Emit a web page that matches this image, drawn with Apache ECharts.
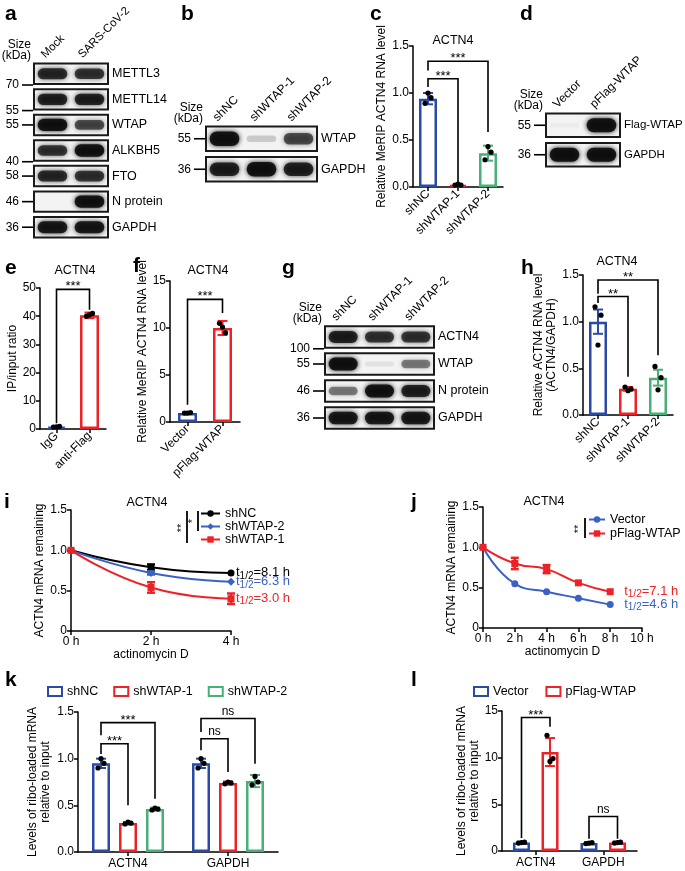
<!DOCTYPE html>
<html><head><meta charset="utf-8">
<script src="https://cdn.jsdelivr.net/npm/echarts@6/dist/echarts.min.js"></script>
<style>html,body{margin:0;padding:0;background:#fff}#c{width:685px;height:871px}</style>
</head><body><div id="c"></div>
<script>
// ================= DATA =================
// a: western blot
const aLanes = ['Mock', 'SARS-CoV-2'];
const aRows = ['METTL3', 'METTL14', 'WTAP', 'ALKBH5', 'FTO', 'N protein', 'GAPDH'];
const aKda = ['70', '55', '55', '40', '58', '46', '36'];
const aBands = [[0.85, 0.8], [0.9, 0.9], [1.0, 0.7], [0.8, 1.0], [0.85, 0.8], [0.0, 1.0], [0.95, 0.95]];
const aMarkBottom = [true, true, false, true, false, false, false];
// b: western blot
const bLanes = ['shNC', 'shWTAP-1', 'shWTAP-2'];
const bRows = ['WTAP', 'GAPDH'];
const bKda = ['55', '36'];
const bBands = [[1.0, 0.18, 0.7], [0.9, 1.0, 0.9]];
// c: MeRIP bars
const cCats = ['shNC', 'shWTAP-1', 'shWTAP-2'];
const cMean = [0.94, 0.02, 0.36];
const cSD = [0.06, 0.01, 0.08];
const cPts = [[0.89, 0.95, 1.0], [0.02, 0.02, 0.03], [0.29, 0.37, 0.43]];
const cSig = [[0, 0, 1, 0, 1.152, 1.064, 0.053, '***'], [0, 0, 2, 0, 1.337, 1.24, 0.585, '***']];
// d: western blot
const dLanes = ['Vector', 'pFlag-WTAP'];
const dRows = ['Flag-WTAP', 'GAPDH'];
const dKda = ['55', '36'];
const dBands = [[0.03, 1.0], [1.0, 1.0]];
// e: IP/input
const eCats = ['IgG', 'anti-Flag'];
const eMean = [0.8, 40.3];
const eSD = [0.3, 1.0];
const ePts = [[0.7, 0.9, 0.8], [40.0, 41.0, 40.5]];
const eSig = [[0, 0, 1, 0, 49.5, 2.0, 42.3, '***']];
// f: MeRIP overexpression
const fCats = ['Vector', 'pFlag-WTAP'];
const fMean = [0.95, 10.0];
const fSD = [0.1, 0.75];
const fPts = [[0.95, 1.0, 0.95], [10.5, 9.5, 10.1]];
const fSig = [[0, 0, 1, 0, 13.05, 1.84, 11.6, '***']];
// g: western blot
const gLanes = ['shNC', 'shWTAP-1', 'shWTAP-2'];
const gRows = ['ACTN4', 'WTAP', 'N protein', 'GAPDH'];
const gKda = ['100', '55', '46', '36'];
const gBands = [[0.9, 0.8, 0.8], [1.0, 0.08, 0.5], [0.5, 1.0, 0.9], [0.95, 0.95, 0.95]];
const gMarkBottom = [true, false, false, false];
// h: RNA level
const hCats = ['shNC', 'shWTAP-1', 'shWTAP-2'];
const hMean = [1.0, 0.28, 0.40];
const hSD = [0.13, 0.02, 0.085];
const hPts = [[1.16, 1.07, 0.75], [0.30, 0.28, 0.26], [0.52, 0.40, 0.27]];
const hSig = [[0, 0, 1, 0, 1.27, 1.2, 0.41, '**'], [0, 0, 2, 0, 1.446, 1.30, 0.64, '**']];
// i: decay
const iTimes = [0, 2, 4];
const iNames = ['shNC', 'shWTAP-2', 'shWTAP-1'];
const iMeans = [[1, 0.79, 0.72], [1, 0.72, 0.61], [1, 0.54, 0.40]];
const iSD = [[0, 0.035, 0.01], [0, 0.02, 0.01], [0, 0.065, 0.065]];
const iHalf = ['8.1', '6.3', '3.0'];
// j: decay
const jTimes = [0, 2, 4, 6, 8];
const jNames = ['Vector', 'pFlag-WTAP'];
const jMeans = [[1, 0.55, 0.45, 0.37, 0.29], [1, 0.80, 0.73, 0.56, 0.45]];
const jSD = [[0, 0.01, 0.01, 0.01, 0.01], [0, 0.07, 0.05, 0.01, 0.01]];
const jHalf = ['4.6', '7.1'];
// k: ribo-loaded
const kGroups = ['ACTN4', 'GAPDH'];
const kNames = ['shNC', 'shWTAP-1', 'shWTAP-2'];
const kMeans = [[0.95, 0.95], [0.31, 0.74], [0.46, 0.76]];
const kSD = [[0.05, 0.05], [0.012, 0.015], [0.015, 0.065]];
const kPts = [[[0.90, 0.95, 1.0], [0.90, 0.95, 1.0]], [[0.30, 0.31, 0.32], [0.73, 0.74, 0.75]], [[0.45, 0.46, 0.47], [0.72, 0.75, 0.81]]];
const kSig = [[0, 0, 0, 1, 1.16, 1.05, 0.5, '***'], [0, 0, 0, 2, 1.386, 1.25, 0.57, '***'], [1, 0, 1, 1, 1.214, 1.09, 0.857, 'ns'], [1, 0, 1, 2, 1.43, 1.286, 0.946, 'ns']];
// l: ribo-loaded overexpression
const lGroups = ['ACTN4', 'GAPDH'];
const lNames = ['Vector', 'pFlag-WTAP'];
const lMeans = [[0.9, 0.85], [10.6, 0.9]];
const lSD = [[0.1, 0.08], [1.5, 0.1]];
const lPts = [[[0.85, 0.95, 0.9], [0.8, 0.9, 0.85]], [[12.4, 9.9, 9.6], [0.85, 0.95, 0.9]]];
const lSig = [[0, 0, 0, 1, 14.3, 1.4, 13.3, '***'], [1, 0, 1, 1, 3.7, 1.3, 1.3, 'ns']];

// ================= STYLE =================
const FONT = 'Liberation Sans, Arial, Helvetica, sans-serif';
const BLUE = '#2b4aa6', RED = '#ec2227', GREEN = '#4aae78';
const LBLUE = '#3a62c4';

const grids = [], xAxes = [], yAxes = [], series = [], graphics = [], legends = [];
function addGrid(g, xa, ya) {
  grids.push(g); const gi = grids.length - 1;
  xa.gridIndex = gi; ya.gridIndex = gi; xAxes.push(xa); yAxes.push(ya); return gi;
}
const axLine = { show: true, lineStyle: { color: '#000', width: 1.5 } };
const axTick = { show: true, length: 4, lineStyle: { color: '#000', width: 1.5 } };
function yAx(max, interval, name, gap, fmt) {
  return { type: 'value', min: 0, max, interval, axisLine: axLine, axisTick: axTick, splitLine: { show: false },
    axisLabel: { color: '#000', fontSize: 12, fontFamily: FONT, margin: 4, formatter: fmt },
    name, nameLocation: 'middle', nameGap: gap, nameRotate: 90,
    nameTextStyle: { color: '#000', fontSize: 12, fontFamily: FONT, lineHeight: 13 } };
}
function xCat(data, rotate) {
  return { type: 'category', data, axisLine: axLine,
    axisTick: { show: true, alignWithLabel: true, length: 4, lineStyle: { color: '#000', width: 1.5 } },
    axisLabel: { color: '#000', fontSize: 12, fontFamily: FONT, rotate, margin: 5, interval: 0 } };
}
const f1 = v => v.toFixed(1), f0 = v => String(v), fz = v => v === 0 ? '0' : v.toFixed(1);

function errSeries(gi, means, sds, pts, colors, offset, cap) {
  return { type: 'custom', xAxisIndex: gi, yAxisIndex: gi, z: 5, silent: true,
    data: means.map((m, i) => [i, m, sds[i]]),
    renderItem(params, api) {
      const i = params.dataIndex, m = api.value(1), s = api.value(2);
      const x = api.coord([i, m])[0] + offset;
      const yt = api.coord([i, m + s])[1], yb = api.coord([i, Math.max(m - s, 0)])[1];
      const col = colors[i];
      const ch = [
        { type: 'line', shape: { x1: x, y1: yt, x2: x, y2: yb }, style: { stroke: col, lineWidth: 2 } },
        { type: 'line', shape: { x1: x - cap, y1: yt, x2: x + cap, y2: yt }, style: { stroke: col, lineWidth: 2 } },
        { type: 'line', shape: { x1: x - cap, y1: yb, x2: x + cap, y2: yb }, style: { stroke: col, lineWidth: 2 } }];
      const jit = [-3, 3, 0];
      pts[i].forEach((p, k) => {
        const y = api.coord([i, p])[1];
        ch.push({ type: 'circle', shape: { cx: x + jit[k], cy: y, r: 2.6 }, style: { fill: '#000' } });
      });
      return { type: 'group', children: ch };
    } };
}
function sigSeries(gi, items, offsets) {
  return { type: 'custom', xAxisIndex: gi, yAxisIndex: gi, z: 6, silent: true,
    data: items.map(it => [it[0], it[4]]),
    renderItem(params, api) {
      const it = items[params.dataIndex];
      const x1 = api.coord([it[0], 0])[0] + offsets[it[1]];
      const x2 = api.coord([it[2], 0])[0] + offsets[it[3]];
      const yt = api.coord([0, it[4]])[1], y1 = api.coord([0, it[5]])[1], y2 = api.coord([0, it[6]])[1];
      const star = it[7].indexOf('*') >= 0;
      return { type: 'group', children: [
        { type: 'polyline', shape: { points: [[x1, y1], [x1, yt], [x2, yt], [x2, y2]] }, style: { stroke: '#000', lineWidth: 1.6, fill: null } },
        { type: 'text', x: (x1 + x2) / 2, y: star ? yt + 4 : yt - 1, style: { text: it[7], fill: '#000', fontSize: star ? 13 : 12, fontFamily: FONT, align: 'center', verticalAlign: 'bottom' } }] };
    } };
}
function barChart(box, cats, means, sds, pts, sig, colors, ymax, yint, yname, gap, fmt, bw) {
  const gi = addGrid(box, xCat(cats, 45), yAx(ymax, yint, yname, gap, fmt));
  series.push({ type: 'bar', xAxisIndex: gi, yAxisIndex: gi, barWidth: bw, silent: true, z: 2,
    data: means.map((v, i) => ({ value: v, itemStyle: { color: '#fff', borderColor: colors[i], borderWidth: 2.5 } })) });
  series.push(errSeries(gi, means, sds, pts, colors, 0, 5));
  series.push(sigSeries(gi, sig, [0]));
}
function groupChart(box, groups, names, prefix, means, sds, pts, sig, colors, ymax, yint, yname, gap, fmt, bw, gapPct, pitch) {
  const gi = addGrid(box, xCat(groups, 0), yAx(ymax, yint, yname, gap, fmt));
  xAxes[gi].axisLabel.margin = 6;
  const n = names.length, offs = names.map((_, s) => (s - (n - 1) / 2) * pitch);
  names.forEach((nm, s) => {
    series.push({ type: 'bar', name: prefix + nm, xAxisIndex: gi, yAxisIndex: gi, barWidth: bw, barGap: gapPct, z: 2,
      itemStyle: { color: '#fff', borderColor: colors[s], borderWidth: 2.5 }, data: means[s] });
  });
  names.forEach((nm, s) => {
    series.push(errSeries(gi, means[s], sds[s], pts[s], groups.map(() => colors[s]), offs[s], 5));
  });
  series.push(sigSeries(gi, sig, offs));
  return gi;
}
function addBlot(box, lanes, rows, kda, bands, markBottom, fs) {
  const gi = addGrid(box, { type: 'value', min: 0, max: lanes.length, show: false },
    { type: 'value', min: 0, max: rows.length, inverse: true, show: false });
  const nL = lanes.length;
  series.push({ type: 'custom', xAxisIndex: gi, yAxisIndex: gi, silent: true, clip: false,
    data: rows.map((r, i) => [i].concat(bands[i])),
    renderItem(params, api) {
      const r = params.dataIndex;
      const p0 = api.coord([0, r + 0.1]), p1 = api.coord([nL, r + 0.9]);
      const bh = p1[1] - p0[1], W = p1[0] - p0[0], lw = W / nL;
      const ch = [{ type: 'rect', shape: { x: p0[0], y: p0[1], width: W, height: bh }, style: { fill: '#f3f3f3', stroke: '#1a1a1a', lineWidth: 2 } }];
      for (let j = 0; j < nL; j++) {
        const I = api.value(j + 1);
        const c = api.coord([j + 0.5, r + 0.5]);
        const h = bh * (0.2 + 0.4 * I), w = lw * 0.8;
        if (I > 0.01) ch.push({ type: 'rect', shape: { x: c[0] - w / 2, y: c[1] - h / 2, width: w, height: h, r: [h / 2, h / 2, h / 2, h / 2] },
          style: { fill: 'rgba(12,12,12,' + (0.9 * I) + ')', shadowBlur: 5, shadowColor: 'rgba(0,0,0,' + I + ')' } });
      }
      ch.push({ type: 'text', x: p1[0] + 4, y: (p0[1] + p1[1]) / 2, style: { text: rows[r], fill: '#000', fontSize: fs.row, fontFamily: FONT, align: 'left', verticalAlign: 'middle' } });
      const my = (markBottom && markBottom[r]) ? p1[1] + 1 : (p0[1] + p1[1]) / 2;
      ch.push({ type: 'line', shape: { x1: p0[0] - 12, y1: my, x2: p0[0] - 1, y2: my }, style: { stroke: '#000', lineWidth: 1.6 } });
      ch.push({ type: 'text', x: p0[0] - 15, y: my, style: { text: kda[r], fill: '#000', fontSize: 12, fontFamily: FONT, align: 'right', verticalAlign: 'middle' } });
      if (r === 0) {
        ch.push({ type: 'text', x: p0[0] - 3, y: p0[1] - 2, style: { text: 'Size\n(kDa)', fill: '#000', fontSize: 12, lineHeight: 11, fontFamily: FONT, align: 'right', verticalAlign: 'bottom' } });
        for (let j = 0; j < nL; j++) {
          const c = api.coord([j + 0.5, r]);
          ch.push({ type: 'text', x: c[0] - 5, y: p0[1] - 3, rotation: Math.PI / 4,
            style: { text: lanes[j], fill: '#000', fontSize: fs.lane, fontFamily: FONT, align: 'left', verticalAlign: 'bottom' } });
        }
      }
      return { type: 'group', children: ch };
    } });
}
function decayChart(box, times, names, means, sds, half, colors, symbols, xmax, gap, labelDist) {
  const xa = { type: 'value', min: 0, max: xmax, interval: 2, axisLine: axLine, axisTick: axTick, splitLine: { show: false },
    axisLabel: { color: '#000', fontSize: 12, fontFamily: FONT, margin: 5, formatter: v => v + ' h' },
    name: 'actinomycin D', nameLocation: 'middle', nameGap: 18, nameTextStyle: { color: '#000', fontSize: 12, fontFamily: FONT } };
  const gi = addGrid(box, xa, yAx(1.5, 0.5, 'ACTN4 mRNA remaining', gap, fz));
  names.forEach((nm, s) => {
    series.push({ type: 'line', name: nm, xAxisIndex: gi, yAxisIndex: gi, smooth: 0.5, symbol: symbols[s], symbolSize: symbols[s] === 'diamond' ? 8 : 7,
      color: colors[s], lineStyle: { width: 2, color: colors[s] }, itemStyle: { color: colors[s] }, z: 3,
      data: times.map((t, k) => [t, means[s][k]]),
      endLabel: { show: true, distance: labelDist, formatter: () => '{a|t}{b|1/2}{a|=' + half[s] + ' h}',
        rich: { a: { fontSize: 13, fontFamily: FONT, color: colors[s], lineHeight: 16 },
                b: { fontSize: 10, fontFamily: FONT, color: colors[s], verticalAlign: 'bottom', lineHeight: 10 } } } });
    series.push({ type: 'custom', xAxisIndex: gi, yAxisIndex: gi, silent: true, z: 4,
      data: times.map((t, k) => [t, means[s][k], sds[s][k]]),
      renderItem(params, api) {
        const t = api.value(0), m = api.value(1), sd = api.value(2);
        if (sd < 0.02) return null;
        const x = api.coord([t, m])[0], yt = api.coord([t, m + sd])[1], yb = api.coord([t, m - sd])[1];
        const st = { stroke: colors[s], lineWidth: 2.5 };
        return { type: 'group', children: [
          { type: 'line', shape: { x1: x, y1: yt, x2: x, y2: yb }, style: st },
          { type: 'line', shape: { x1: x - 4, y1: yt, x2: x + 4, y2: yt }, style: st },
          { type: 'line', shape: { x1: x - 4, y1: yb, x2: x + 4, y2: yb }, style: st }] };
      } });
  });
  return gi;
}
function txt(x, y, text, opt, rot) {
  graphics.push({ type: 'text', x, y, silent: true, rotation: rot || 0,
    style: Object.assign({ text, fill: '#000', fontSize: 12, fontFamily: FONT, align: 'center', verticalAlign: 'middle' }, opt || {}) });
}
function letter(x, y, t) { txt(x, y, t, { fontSize: 21, fontWeight: 'bold', align: 'left', verticalAlign: 'top' }); }
function vline(x, y1, y2) { graphics.push({ type: 'line', silent: true, shape: { x1: x, y1, x2: x, y2 }, style: { stroke: '#000', lineWidth: 1.8 } }); }

// ================= BUILD =================
addBlot({ left: 34, top: 61, width: 74, height: 179 }, aLanes, aRows, aKda, aBands, aMarkBottom, { row: 12.5, lane: 11.5 });
addBlot({ left: 206, top: 123.5, width: 111, height: 61 }, bLanes, bRows, bKda, bBands, null, { row: 12.5, lane: 12 });
barChart({ left: 413, top: 46, width: 90, height: 141 }, cCats, cMean, cSD, cPts, cSig, [BLUE, RED, GREEN], 1.5, 0.5, 'Relative MeRIP ACTN4 RNA level', 24, f1, 18);
addBlot({ left: 546, top: 110.5, width: 74, height: 59 }, dLanes, dRows, dKda, dBands, null, { row: 11.5, lane: 12 });
barChart({ left: 40, top: 288, width: 66, height: 141 }, eCats, eMean, eSD, ePts, eSig, [BLUE, RED], 50, 10, 'IP/input ratio', 19, f0, 19);
barChart({ left: 170, top: 281, width: 70, height: 141 }, fCats, fMean, fSD, fPts, fSig, [BLUE, RED], 15, 5, 'Relative MeRIP ACTN4 RNA level', 19, f0, 19);
addBlot({ left: 325, top: 323.5, width: 109, height: 108 }, gLanes, gRows, gKda, gBands, gMarkBottom, { row: 12.5, lane: 12 });
barChart({ left: 583, top: 275, width: 90, height: 140 }, hCats, hMean, hSD, hPts, hSig, [BLUE, RED, GREEN], 1.5, 0.5, 'Relative ACTN4 RNA level\n(ACTN4/GAPDH)', 24, f1, 18);
decayChart({ left: 71, top: 510, width: 160, height: 121 }, iTimes, iNames, iMeans, iSD, iHalf, ['#000', LBLUE, RED], ['circle', 'diamond', 'rect'], 4, 25, 5);
decayChart({ left: 483, top: 507, width: 159, height: 121 }, jTimes, jNames, jMeans, jSD, jHalf, [LBLUE, RED], ['circle', 'rect'], 10, 25, 14);
groupChart({ left: 78, top: 712, width: 200, height: 140 }, kGroups, kNames, 'k:', kMeans, kSD, kPts, kSig, [BLUE, RED, GREEN], 1.5, 0.5, 'Levels of ribo-loaded mRNA\nrelative to input', 26, f1, 18, '50%', 27);
groupChart({ left: 502, top: 711, width: 135, height: 140 }, lGroups, lNames, 'l:', lMeans, lSD, lPts, lSig, [BLUE, RED], 15, 5, 'Levels of ribo-loaded mRNA\nrelative to input', 18, f0, 17, '68%', 28.5);

legends.push({ data: iNames, orient: 'vertical', left: 200, top: 507, padding: 0, itemWidth: 19, itemHeight: 8, itemGap: 0, selectedMode: false,
  textStyle: { fontSize: 12.5, fontFamily: FONT, color: '#000', lineHeight: 13 } });
legends.push({ data: jNames, orient: 'vertical', left: 588, top: 513, padding: 0, itemWidth: 16, itemHeight: 8, itemGap: 1, selectedMode: false,
  textStyle: { fontSize: 12.5, fontFamily: FONT, color: '#000', lineHeight: 13 } });
legends.push({ data: kNames.map((n, s) => ({ name: 'k:' + n, icon: 'rect', itemStyle: { color: '#fff', borderColor: [BLUE, RED, GREEN][s], borderWidth: 2 } })),
  formatter: n => n.slice(2), left: 47, top: 685, padding: 0, itemWidth: 14, itemHeight: 9, itemGap: 15, selectedMode: false,
  textStyle: { fontSize: 12.5, fontFamily: FONT, color: '#000' } });
legends.push({ data: lNames.map((n, s) => ({ name: 'l:' + n, icon: 'rect', itemStyle: { color: '#fff', borderColor: [BLUE, RED][s], borderWidth: 2 } })),
  formatter: n => n.slice(2), left: 473, top: 685, padding: 0, itemWidth: 14, itemHeight: 9, itemGap: 17, selectedMode: false,
  textStyle: { fontSize: 12.5, fontFamily: FONT, color: '#000' } });

// panel letters
letter(5, 4, 'a'); letter(181, 4, 'b'); letter(370, 4, 'c'); letter(520, 4, 'd');
letter(5, 258, 'e'); letter(133, 256, 'f'); letter(282, 258, 'g'); letter(521, 258, 'h');
letter(4, 492, 'i'); letter(411, 492, 'j'); letter(5, 670, 'k'); letter(411, 670, 'l');
// titles
txt(453, 41, 'ACTN4', { fontSize: 12.5 }); txt(75, 271, 'ACTN4', { fontSize: 12.5 }); txt(208, 271, 'ACTN4', { fontSize: 12.5 });
txt(617, 262, 'ACTN4', { fontSize: 12.5 }); txt(147, 503, 'ACTN4', { fontSize: 12.5 }); txt(544, 502, 'ACTN4', { fontSize: 12.5 });
// decay significance markers
vline(187, 511, 543); vline(198, 511, 531); vline(585, 518, 538);
txt(182, 528, '**', { fontSize: 11 }, Math.PI / 2); txt(193, 521, '*', { fontSize: 11 }, Math.PI / 2);
txt(579, 529, '**', { fontSize: 11 }, Math.PI / 2);

const chart = echarts.init(document.getElementById('c'), null, { renderer: 'canvas' });
chart.setOption({ animation: false, backgroundColor: '#fff', textStyle: { fontFamily: FONT },
  grid: grids, xAxis: xAxes, yAxis: yAxes, series, legend: legends, graphic: graphics });
</script></body></html>
